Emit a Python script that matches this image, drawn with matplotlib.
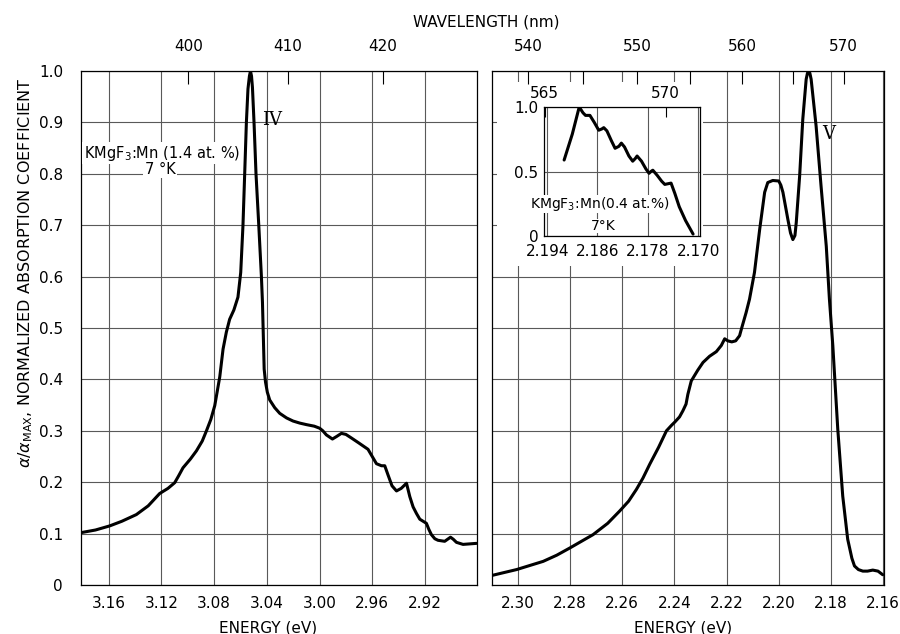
import matplotlib
matplotlib.use("Agg")
import matplotlib.pyplot as plt
from matplotlib.patches import Rectangle

plt.rcParams['font.family'] = ['DejaVu Sans']
plt.rcParams['mathtext.fontset'] = 'dejavusans'

HC = 1239.84  # eV*nm

# ---------------- data ----------------
# Left panel: band IV, KMgF3:Mn (1.4 at.%)
energy_IV = [3.1807, 3.1700, 3.1592, 3.1500, 3.1390, 3.1300, 3.1213, 3.1150, 3.1099,
             3.1070, 3.1036, 3.0980, 3.0934, 3.0890, 3.0858, 3.0825, 3.0795, 3.0757,
             3.0732, 3.0707, 3.0682, 3.0650, 3.0619, 3.0598, 3.0581, 3.0568, 3.0555,
             3.0543, 3.0532, 3.0524, 3.0516, 3.0509, 3.0497, 3.0482, 3.0461, 3.0441,
             3.0433, 3.0426, 3.0420, 3.0410, 3.0396, 3.0378, 3.0340, 3.0302, 3.0250,
             3.0201, 3.0150, 3.0099, 3.0040, 2.9999, 2.9975, 2.9948, 2.9902, 2.9870,
             2.9834, 2.9800, 2.9758, 2.9700, 2.9632, 2.9600, 2.9568, 2.9530, 2.9505,
             2.9480, 2.9450, 2.9416, 2.9380, 2.9340, 2.9315, 2.9290, 2.9264, 2.9239,
             2.9189, 2.9170, 2.9151, 2.9125, 2.9101, 2.9050, 2.9006, 2.8985, 2.8961,
             2.8911, 2.8809]
absorb_IV = [0.102, 0.107, 0.115, 0.124, 0.137, 0.154, 0.178, 0.188, 0.199,
             0.212, 0.228, 0.245, 0.261, 0.280, 0.300, 0.322, 0.349, 0.405,
             0.459, 0.492, 0.517, 0.535, 0.560, 0.608, 0.699, 0.799, 0.900,
             0.965, 0.990, 1.000, 0.990, 0.968, 0.900, 0.800, 0.700, 0.600,
             0.550, 0.480, 0.420, 0.395, 0.375, 0.360, 0.345, 0.334, 0.325,
             0.319, 0.315, 0.312, 0.309, 0.305, 0.300, 0.292, 0.284, 0.289,
             0.295, 0.293, 0.286, 0.276, 0.264, 0.250, 0.236, 0.232, 0.232,
             0.214, 0.193, 0.183, 0.188, 0.198, 0.172, 0.152, 0.139, 0.128,
             0.120, 0.108, 0.098, 0.090, 0.087, 0.085, 0.093, 0.089, 0.083,
             0.079, 0.081]

# Right panel: band V
energy_V = [2.3099, 2.3004, 2.2902, 2.2850, 2.2800, 2.2711, 2.2655, 2.2609, 2.2575,
            2.2545, 2.2520, 2.2494, 2.2460, 2.2430, 2.2410, 2.2398, 2.2380, 2.2367,
            2.2355, 2.2348, 2.2335, 2.2310, 2.2290, 2.2265, 2.2239, 2.2220, 2.2207,
            2.2195, 2.2180, 2.2165, 2.2150, 2.2143, 2.2125, 2.2112, 2.2093, 2.2073,
            2.2054, 2.2042, 2.2023, 2.2000, 2.1992, 2.1984, 2.1965, 2.1955, 2.1946,
            2.1938, 2.1933, 2.1920, 2.1908, 2.1895, 2.1890, 2.1886, 2.1881, 2.1876,
            2.1857, 2.1838, 2.1818, 2.1806, 2.1793, 2.1774, 2.1755, 2.1736, 2.1720,
            2.1710, 2.1695, 2.1678, 2.1660, 2.1640, 2.1620, 2.1602]
absorb_V = [0.0185, 0.030, 0.046, 0.058, 0.072, 0.098, 0.120, 0.144, 0.163,
            0.186, 0.208, 0.235, 0.268, 0.300, 0.311, 0.317, 0.327, 0.339,
            0.352, 0.371, 0.397, 0.418, 0.433, 0.445, 0.454, 0.466, 0.479,
            0.475, 0.473, 0.475, 0.485, 0.498, 0.530, 0.556, 0.608, 0.692,
            0.764, 0.783, 0.787, 0.786, 0.778, 0.764, 0.711, 0.685, 0.672,
            0.680, 0.705, 0.796, 0.906, 0.984, 0.996, 0.999, 0.996, 0.984,
            0.893, 0.776, 0.659, 0.556, 0.466, 0.303, 0.173, 0.089, 0.052,
            0.037, 0.030, 0.027, 0.027, 0.029, 0.027, 0.020]

# Inset: KMgF3:Mn (0.4 at.%)
energy_in = [2.1913, 2.1900, 2.1889, 2.1883, 2.1879, 2.1872, 2.1865, 2.1858, 2.1853,
             2.1850, 2.1845, 2.1838, 2.1832, 2.1826, 2.1822, 2.1817, 2.1810, 2.1804,
             2.1800, 2.1797, 2.1790, 2.1783, 2.1778, 2.1775, 2.1772, 2.1765, 2.1758,
             2.1753, 2.1748, 2.1743, 2.1737, 2.1730, 2.1720, 2.1708]
absorb_in = [0.589, 0.790, 1.000, 0.955, 0.935, 0.935, 0.880, 0.820, 0.830,
             0.840, 0.815, 0.740, 0.680, 0.695, 0.720, 0.690, 0.620, 0.580,
             0.600, 0.620, 0.580, 0.520, 0.486, 0.500, 0.510, 0.470, 0.425,
             0.400, 0.405, 0.410, 0.330, 0.227, 0.120, 0.015]

# ticks
yticks = [0, 0.1, 0.2, 0.3, 0.4, 0.5, 0.6, 0.7, 0.8, 0.9, 1.0]
ytick_labels = ['0', '0.1', '0.2', '0.3', '0.4', '0.5', '0.6', '0.7', '0.8', '0.9', '1.0']
xticks_L = [3.16, 3.12, 3.08, 3.04, 3.00, 2.96, 2.92]
xtick_labels_L = ['3.16', '3.12', '3.08', '3.04', '3.00', '2.96', '2.92']
xticks_R = [2.30, 2.28, 2.26, 2.24, 2.22, 2.20, 2.18, 2.16]
xtick_labels_R = ['2.30', '2.28', '2.26', '2.24', '2.22', '2.20', '2.18', '2.16']
wl_L = [400, 410, 420]
wl_R = [540, 550, 560, 570]
wl_R_minor = [545, 555, 565]
xticks_in = [2.194, 2.186, 2.178, 2.170]
xtick_labels_in = ['2.194', '2.186', '2.178', '2.170']
yticks_in = [0, 0.5, 1.0]
ytick_labels_in = ['0', '0.5', '1.0']
wl_in = [565, 570]

FS = 11
GRID = dict(color='0.35', linewidth=0.8)
LINE = dict(color='black', linewidth=2.2, solid_joinstyle='round', solid_capstyle='round', zorder=4)

W, H = 900, 634
fig = plt.figure(figsize=(9, 6.34), dpi=100)

def fx(px):
    return px / W

def fy(py):
    return 1 - py / H

axL = fig.add_axes([fx(81), fy(585), 396 / W, 514 / H])
axR = fig.add_axes([fx(492), fy(585), 392 / W, 514 / H])

for ax, xl, xt, xtl in [(axL, (3.181, 2.8805), xticks_L, xtick_labels_L),
                        (axR, (2.3098, 2.1597), xticks_R, xtick_labels_R)]:
    ax.set_xlim(*xl)
    ax.set_ylim(0, 1.0)
    ax.set_xticks(xt, labels=xtl)
    ax.set_yticks(yticks, labels=ytick_labels)
    ax.grid(True, **GRID)
    ax.tick_params(axis='both', length=0, labelsize=FS)
    ax.tick_params(axis='x', pad=8)
    ax.tick_params(axis='y', pad=13)
    for s in ax.spines.values():
        s.set_linewidth(0.9)

axR.tick_params(axis='y', labelleft=False)

axL.plot(energy_IV, absorb_IV, **LINE)
axR.plot(energy_V, absorb_V, **LINE)

# top wavelength axes
for ax, wl, wlm in [(axL, wl_L, []), (axR, wl_R, wl_R_minor)]:
    tw = ax.twiny()
    tw.set_xlim(ax.get_xlim())
    tw.set_xticks([HC / w for w in wl], labels=[str(w) for w in wl])
    if wlm:
        tw.set_xticks([HC / w for w in wlm], minor=True)
    tw.tick_params(axis='x', which='both', direction='in', length=9, width=0.8,
                   labelsize=FS, pad=12)
    for s in tw.spines.values():
        s.set_visible(False)

# white area behind inset
axR.add_patch(Rectangle((fx(497), fy(266)), (703 - 497) / W, (266 - 82) / H,
                        transform=fig.transFigure, facecolor='white',
                        edgecolor='none', zorder=2))

# inset
axI = fig.add_axes([fx(544), fy(236), 156 / W, 129 / H])
axI.set_xlim(2.1945, 2.1697)
axI.set_ylim(0, 1.0)
axI.set_xticks(xticks_in, labels=xtick_labels_in)
axI.set_yticks(yticks_in, labels=ytick_labels_in)
axI.grid(True, **GRID)
axI.tick_params(axis='both', length=0, labelsize=FS)
axI.tick_params(axis='x', pad=6)
axI.tick_params(axis='y', pad=4)
for s in axI.spines.values():
    s.set_linewidth(0.9)
axI.plot(energy_in, absorb_in, **LINE)
twI = axI.twiny()
twI.set_xlim(axI.get_xlim())
twI.set_xticks([HC / w for w in wl_in], labels=[str(w) for w in wl_in])
twI.tick_params(axis='x', direction='in', length=7, width=0.8, labelsize=FS, pad=4)
for s in twI.spines.values():
    s.set_visible(False)

# texts
fig.text(fx(486), fy(22), 'WAVELENGTH (nm)', ha='center', va='center', fontsize=FS)
fig.text(fx(268), fy(628), 'ENERGY (eV)', ha='center', va='center', fontsize=FS)
fig.text(fx(683), fy(628), 'ENERGY (eV)', ha='center', va='center', fontsize=FS)
fig.text(fx(26), fy(273), r'$\alpha/\alpha_{\rm MAX}$, NORMALIZED ABSORPTION COEFFICIENT',
         rotation=90, ha='center', va='center', fontsize=11.5)

box = dict(facecolor='white', edgecolor='none', pad=1.0)
fig.text(fx(162), fy(153), r'KMgF$_3$:Mn (1.4 at. %)', ha='center', va='center',
         fontsize=10.5, bbox=box, zorder=6)
fig.text(fx(160), fy(169), r'7 °K', ha='center', va='center',
         fontsize=10.5, bbox=box, zorder=6)
fig.text(fx(600), fy(204), r'KMgF$_3$:Mn(0.4 at.%)', ha='center', va='center',
         fontsize=10, bbox=dict(facecolor='white', edgecolor='none', pad=0.3), zorder=6)
fig.text(fx(603), fy(226), r'7°K', ha='center', va='center',
         fontsize=10, bbox=dict(facecolor='white', edgecolor='none', pad=0.3), zorder=6)
fig.text(fx(272), fy(120), 'IV', ha='center', va='center', fontsize=13,
         family='DejaVu Serif')
fig.text(fx(829), fy(134), 'V', ha='center', va='center', fontsize=13,
         family='DejaVu Serif')

fig.savefig('out.png', dpi=100)
